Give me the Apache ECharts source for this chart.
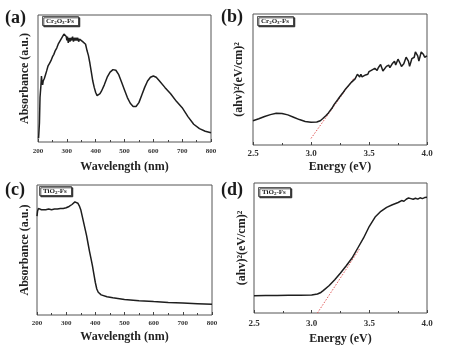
<!DOCTYPE html>
<html><head><meta charset="utf-8">
<style>html,body{margin:0;padding:0;background:#fff}#c{width:452px;height:356px}</style>
<script src="https://cdn.jsdelivr.net/npm/echarts@6/dist/echarts.min.js"></script>
</head><body><div id="c"></div>
<script>
// Panel (a) Cr2O3-Fs absorbance
const aWave = [202,205,207,210,212,214,216,218,222,226,230,235,240,245,250,255,260,265,270,275,280,285,290,293,295,298,300,302,305,308,311,314,317,320,323,326,329,332,335,338,341,344,347,350,355,360,365,370,375,380,385,390,395,400,405,410,415,420,430,440,450,460,465,470,480,490,500,510,520,530,535,540,550,560,570,580,590,600,610,620,640,660,680,700,720,740,760,780,800];
const aAbs  = [3,15,35,44,52,47,45,48,50,53,56,60,62,64,67,69,72,74,77,79,81,83,85,84,86,83,80,83,78,82,79,82,80,83,79,82,80,82,80,82,79,81,80,81,79,79,77,72,68,62,55,48,43,39,36.5,36.5,38,40,45,51,55,57,57.5,56.5,53,47,41,35,30.5,28,27.5,28,31,37,43,48,51,52,51,48.5,43,38,32,27,20,14,10.5,8.5,7.3];
// Panel (b) Cr2O3-Fs Tauc plot
const bEnergy = [2.50,2.55,2.60,2.65,2.70,2.75,2.80,2.85,2.90,2.95,3.00,3.05,3.08,3.10,3.13,3.15,3.18,3.20,3.23,3.25,3.28,3.30,3.33,3.35,3.38,3.40,3.41,3.42,3.43,3.44,3.45,3.47,3.48,3.49,3.50,3.52,3.53,3.55,3.57,3.58,3.60,3.62,3.63,3.65,3.67,3.68,3.70,3.72,3.73,3.75,3.77,3.78,3.80,3.82,3.84,3.85,3.87,3.89,3.90,3.92,3.93,3.95,3.97,3.98,4.00];
const bValue  = [18.5,20,21.8,23.2,24.2,24,23,21.2,19.4,18,17.3,17.5,18.5,20,22.5,24.5,28,31,34.5,37,40.5,43,46,48,50.5,54,55,52,54,52,53,53.5,55,54,56,57,56,58.5,57,59,61.5,56.5,56,60,61,59,62,64,61,65.5,62,60,62,67,64,60,66,67,71,68,64,71,69,67,68];
const bFitE = [3.0,3.37];
const bFitV = [5,51];
// Panel (c) TiO2-Fs absorbance
const cWave = [200,202,205,210,215,220,230,240,250,260,270,280,290,300,305,310,315,320,325,330,335,340,345,350,355,360,365,370,375,380,385,390,395,400,405,410,420,440,460,500,550,600,650,700,750,800];
const cAbs  = [76,80,82,82.5,81,81.5,81,81.5,81,81.5,81.5,82,82,82.5,82,83.5,84,85,86.5,87,87,86,84,81,76,71,66,61,55,49,43.5,38,31.5,25,20,17.5,15.5,14,13.2,12,11,10.3,9.7,9.2,8.7,8.2];
// Panel (d) TiO2-Fs Tauc plot
const dEnergy = [2.50,2.60,2.70,2.80,2.90,3.00,3.05,3.08,3.10,3.15,3.20,3.25,3.30,3.35,3.40,3.45,3.50,3.55,3.60,3.65,3.70,3.75,3.78,3.80,3.82,3.84,3.86,3.88,3.90,3.92,3.94,3.96,3.98,4.00];
const dValue  = [13.3,13.4,13.5,13.6,13.7,13.9,14.6,15.8,17.2,21,25.6,30.8,36.4,42.3,50,57.7,66.7,73.8,78.2,81.3,83.3,85,86.5,86,87.5,88.5,88,87.5,88.3,87.6,88.6,88,88.8,89];
const dFitE = [3.05,3.42];
const dFitV = [0,50];

const waveTicks = [200,300,400,500,600,700,800];
const energyTicks = [2.5,3.0,3.5,4.0];
const panelLabels = ['(a)','(b)','(c)','(d)'];
const yNames = ['Absorbance (a.u.)','(ahv)\u00b2(eV/cm)\u00b2','Absorbance (a.u.)','(ahv)\u00b2(eV/cm)\u00b2'];
const xNames = ['Wavelength (nm)','Energy (eV)','Wavelength (nm)','Energy (eV)'];

const zip = (xs, ys) => xs.map((x, i) => [x, ys[i]]);
const SERIF = 'Liberation Serif';

const grids = [
  {left:38, top:15, width:173, height:127},
  {left:253, top:14, width:174, height:131},
  {left:37, top:185, width:175, height:130},
  {left:254, top:183, width:173, height:130}
].map(g => Object.assign({show:true, borderColor:'#555', borderWidth:1, backgroundColor:'#fff'}, g));

const xCfg = [
  {min:200, max:800, interval:100, fs:7, margin:6, gap:19},
  {min:2.5, max:4.0, interval:0.5, fs:9, margin:4, gap:16},
  {min:200, max:800, interval:100, fs:7, margin:4.5, gap:16},
  {min:2.5, max:4.0, interval:0.5, fs:9, margin:6, gap:20}
];
const yGaps = [7,8,6,6];

const xAxis = xCfg.map((c, i) => ({
  type:'value', gridIndex:i, min:c.min, max:c.max, interval:c.interval,
  name:xNames[i], nameLocation:'middle', nameGap:c.gap,
  nameTextStyle:{fontFamily:SERIF, fontWeight:'bold', fontSize:12, color:'#222'},
  axisLine:{show:false},
  axisTick:{show:true, inside:true, length:3, lineStyle:{color:'#444', width:1}},
  minorTick:{show:true, splitNumber:2, length:2, lineStyle:{color:'#444', width:1}},
  splitLine:{show:false},
  axisLabel:{fontFamily:SERIF, fontWeight:'bold', fontSize:c.fs, color:'#333', margin:c.margin,
    formatter: v => (i % 2 === 1 ? Number(v).toFixed(1) : String(v))}
}));
const yAxis = [0,1,2,3].map(i => ({
  type:'value', gridIndex:i, min:0, max:100,
  name:yNames[i], nameLocation:'middle', nameGap:yGaps[i], nameRotate:90,
  nameTextStyle:{fontFamily:SERIF, fontWeight:'bold', fontSize:12, color:'#222'},
  axisLine:{show:false}, axisTick:{show:false}, axisLabel:{show:false}, splitLine:{show:false}
}));

const lineStyle = {color:'#1e1e1e', width:1.5};
const fitStyle = {color:'#e05a5a', width:1, type:[1.5,1.5]};
const series = [
  {type:'line', xAxisIndex:0, yAxisIndex:0, data:zip(aWave,aAbs), symbol:'none', lineStyle},
  {type:'line', xAxisIndex:1, yAxisIndex:1, data:zip(bFitE,bFitV), symbol:'none', lineStyle:fitStyle},
  {type:'line', xAxisIndex:1, yAxisIndex:1, data:zip(bEnergy,bValue), symbol:'none', lineStyle},
  {type:'line', xAxisIndex:2, yAxisIndex:2, data:zip(cWave,cAbs), symbol:'none', lineStyle},
  {type:'line', xAxisIndex:3, yAxisIndex:3, data:zip(dFitE,dFitV), symbol:'none', lineStyle:fitStyle},
  {type:'line', xAxisIndex:3, yAxisIndex:3, data:zip(dEnergy,dValue), symbol:'none', lineStyle}
];

const labelPos = [[5,9],[221,8],[5,181],[221,181]];
const titles = panelLabels.map((t, i) => ({
  text:t, left:labelPos[i][0], top:labelPos[i][1], padding:0,
  textStyle:{fontFamily:SERIF, fontWeight:'bold', fontSize:18, color:'#1a1a1a'}
}));
const legendRich = {
  t:{fontFamily:SERIF, fontWeight:'bold', fontSize:7, color:'#222', lineHeight:8},
  s:{fontFamily:SERIF, fontWeight:'bold', fontSize:5, color:'#222', lineHeight:8, verticalAlign:'bottom', padding:[2,0,0,0]}
};
const legendTexts = ['{t|Cr}{s|2}{t|O}{s|3}{t|-Fs}','{t|Cr}{s|2}{t|O}{s|3}{t|-Fs}','{t|TiO}{s|2}{t|-Fs}','{t|TiO}{s|2}{t|-Fs}'];
const legendPos = [[42,16],[257,16],[39,186],[258,187]];
legendTexts.forEach((t, i) => titles.push({
  text:t, left:legendPos[i][0], top:legendPos[i][1], padding:[1,5,1,4],
  borderWidth:0.8, borderColor:'#333', backgroundColor:'#fff',
  shadowColor:'#222', shadowOffsetX:1.3, shadowOffsetY:1.3, shadowBlur:0,
  textStyle:{rich:legendRich}
}));

const chart = echarts.init(document.getElementById('c'), null, {renderer:'canvas'});
chart.setOption({
  animation:false,
  backgroundColor:'#fff',
  title:titles,
  grid:grids, xAxis, yAxis, series
});
</script></body></html>
